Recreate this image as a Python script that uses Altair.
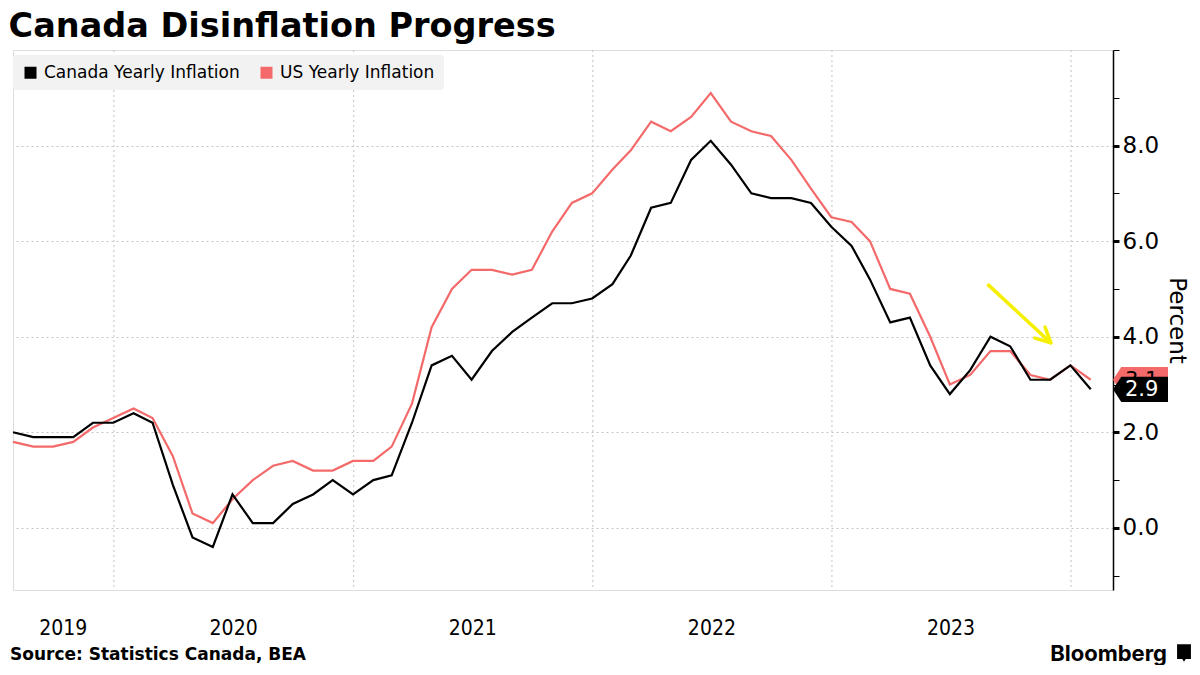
import altair as alt
import pandas as pd

title_text = "Canada Disinflation Progress"
source_text = "Source: Statistics Canada, BEA"
brand_text = "Bloomberg"
series_names = ["Canada Yearly Inflation", "US Yearly Inflation"]
series_colors = ["#000000", "#f46a6a"]

# monthly YoY CPI, Jul 2019 .. Jan 2024 (month-end stamps)
canada = [2.0, 1.9, 1.9, 1.9, 2.2, 2.2,
          2.4, 2.2, 0.9, -0.2, -0.4, 0.7, 0.1, 0.1, 0.5, 0.7, 1.0, 0.7,
          1.0, 1.1, 2.2, 3.4, 3.6, 3.1, 3.7, 4.1, 4.4, 4.7, 4.7, 4.8,
          5.1, 5.7, 6.7, 6.8, 7.7, 8.1, 7.6, 7.0, 6.9, 6.9, 6.8, 6.3,
          5.9, 5.2, 4.3, 4.4, 3.4, 2.8, 3.3, 4.0, 3.8, 3.1, 3.1, 3.4,
          2.9]
us = [1.8, 1.7, 1.7, 1.8, 2.1, 2.3,
      2.5, 2.3, 1.5, 0.3, 0.1, 0.6, 1.0, 1.3, 1.4, 1.2, 1.2, 1.4,
      1.4, 1.7, 2.6, 4.2, 5.0, 5.4, 5.4, 5.3, 5.4, 6.2, 6.8, 7.0,
      7.5, 7.9, 8.5, 8.3, 8.6, 9.1, 8.5, 8.3, 8.2, 7.7, 7.1, 6.5,
      6.4, 6.0, 5.0, 4.9, 4.0, 3.0, 3.2, 3.7, 3.7, 3.2, 3.1, 3.4,
      3.1]
month_ends = [d.strftime("%Y-%m-%d") for d in
              (pd.date_range("2019-08-01", "2024-02-01", freq="MS") - pd.Timedelta(days=1))]

year_label_dates = ["2019-10-15", "2020-07-01", "2021-07-01", "2022-07-01", "2023-07-01"]
year_grid_dates = ["2020-01-01", "2021-01-01", "2022-01-01", "2023-01-01", "2024-01-01"]
y_tick_values = list(range(-1, 11))

arrow_start = ("2023-08-28", 5.08)
arrow_end = ("2023-12-01", 3.875)

W = 1100
H = 540
FONT = "DejaVu Sans"

lines_df = pd.DataFrame({
    "date": month_ends * 2,
    "value": us + canada,
    "series": [series_names[1]] * len(us) + [series_names[0]] * len(canada),
})
grid_df = pd.DataFrame({"date": year_grid_dates})
arrow_df = pd.DataFrame({"date": [arrow_start[0]], "value": [arrow_start[1]],
                         "date2": [arrow_end[0]], "value2": [arrow_end[1]]})


def dt(s):
    y, m, d = (int(p) for p in s.split("-"))
    return alt.DateTime(year=y, month=m, date=d, utc=True)


x_scale = alt.Scale(type="utc", domain=[dt("2019-07-31"), dt("2024-03-05")])
x_axis = alt.Axis(values=[dt(s) for s in year_label_dates],
                  labelExpr="utcFormat(datum.value, '%Y')",
                  domain=False, ticks=False, tickSize=0, grid=False, labelPadding=27,
                  labelFontSize=21, labelFont="DejaVu Sans Condensed, DejaVu Sans",
                  labelColor="black", labelFlush=False, labelOverlap=False, title=None)
even_test = "datum.value % 2 === 0 && datum.value >= 0 && datum.value <= 8"
y_scale = alt.Scale(domain=[-1.3, 10], nice=False, zero=False)
y_axis = alt.Axis(orient="right", values=y_tick_values,
                  labelExpr=f"({even_test}) ? format(datum.value, '.1f') : ''",
                  grid=True, gridDash=[2, 3], gridColor="#c4c4c4",
                  gridOpacity={"condition": {"test": even_test, "value": 1}, "value": 0},
                  tickWidth={"condition": {"test": "datum.value % 2 === 0 && datum.value < 10", "value": 3}, "value": 1},
                  tickSize=6, tickColor="black", domainColor="black", domainWidth=1.5,
                  labelFontSize=23, labelFont=FONT, labelColor="black", labelPadding=3,
                  title="Percent", titleFontSize=23, titleFont=FONT, titleFontWeight="normal",
                  titleColor="black", titlePadding=6)


def X(field):
    return alt.X(field, type="temporal", scale=x_scale, axis=x_axis)


def Y(field):
    return alt.Y(field, type="quantitative", scale=y_scale, axis=y_axis)


color_scale = alt.Scale(domain=series_names, range=series_colors)

grid = alt.Chart(grid_df).mark_rule(color="#c4c4c4", strokeDash=[2, 3], strokeWidth=1).encode(x=X("date"))

legend_keys = alt.Chart(lines_df).mark_square(size=0, opacity=0).encode(
    x=X("date"), y=Y("value"),
    fill=alt.Fill("series:N", scale=color_scale, sort=series_names,
                  legend=alt.Legend(orient="none", legendX=0, legendY=5, direction="horizontal",
                                    title=None, fillColor="#f2f2f2", padding=9, cornerRadius=3,
                                    symbolType="square", symbolSize=144, symbolStrokeWidth=0,
                                    symbolOpacity=1, labelFontSize=17, labelFont=FONT,
                                    labelColor="black", labelLimit=0,
                                    columnPadding=18, labelOffset=5)),
)

lines = alt.Chart(lines_df).mark_line(strokeWidth=2.2).encode(
    x=X("date"), y=Y("value"),
    color=alt.Color("series:N", scale=color_scale, legend=None),
)

ycol = "#f5ef00"
arrow_line = alt.Chart(arrow_df).mark_rule(color=ycol, strokeWidth=3.5, strokeCap="round").encode(
    x=X("date"), x2="date2", y=Y("value"), y2="value2")
arrow_head = alt.Chart(arrow_df).mark_point(
    shape="M-0.45,0.89 L0,0 L0.45,0.89", filled=False, stroke=ycol, strokeWidth=3.5,
    size=1100, angle=133, opacity=1, strokeCap="round", strokeJoin="round"
).encode(x=X("date2"), y=Y("value2"))

label_shape = "M0,0 L0.3,-0.46 L2,-0.46 L2,0.46 L0.3,0.46 Z"
end_layers = []
for name, vals, col, txtcol in [(series_names[1], us, series_colors[1], "#000000"),
                                (series_names[0], canada, series_colors[0], "#ffffff")]:
    edf = pd.DataFrame({"value": [vals[-1]], "label": [f"{vals[-1]:.1f}"]})
    box = alt.Chart(edf).mark_point(shape=label_shape, filled=True, color=col, opacity=1,
                                    size=3025, strokeWidth=0).encode(x=alt.value(W), y=Y("value"))
    txt = alt.Chart(edf).mark_text(align="left", baseline="middle", fontSize=21, font=FONT,
                                   color=txtcol, dx=12, dy=1).encode(
        x=alt.value(W), y=Y("value"), text="label:N")
    end_layers += [box, txt]

src = alt.Chart(pd.DataFrame({"t": [source_text]})).mark_text(
    align="left", baseline="middle", fontSize=17, fontWeight="bold", font=FONT, color="black"
).encode(x=alt.value(-3), y=alt.value(H + 65), text="t:N")
brand = alt.Chart(pd.DataFrame({"t": [brand_text]})).mark_text(
    align="right", baseline="middle", fontSize=22, fontWeight="bold", font="Inter", color="black"
).encode(x=alt.value(1154), y=alt.value(H + 64), text="t:N")
logo = alt.Chart(pd.DataFrame({"t": [1]})).mark_point(
    shape="M-0.8,-1 L0.8,-1 L0.8,0.7 L0.2,0.7 L0,1 L-0.2,0.7 L-0.8,0.7 Z",
    filled=True, color="black", opacity=1, size=300
).encode(x=alt.value(1171), y=alt.value(H + 63))

chart = alt.layer(grid, legend_keys, lines, arrow_line, arrow_head, *end_layers, src, brand, logo).properties(
    width=W, height=H, padding={"top": 2, "left": 0, "right": 0, "bottom": 0},
    title=alt.TitleParams(title_text, anchor="start", fontSize=33.5, font=FONT, fontWeight="bold",
                          color="black", offset=5),
).configure_view(stroke=None).configure(background="white")

chart.save("out.html", embed_options={"renderer": "svg", "actions": False})
